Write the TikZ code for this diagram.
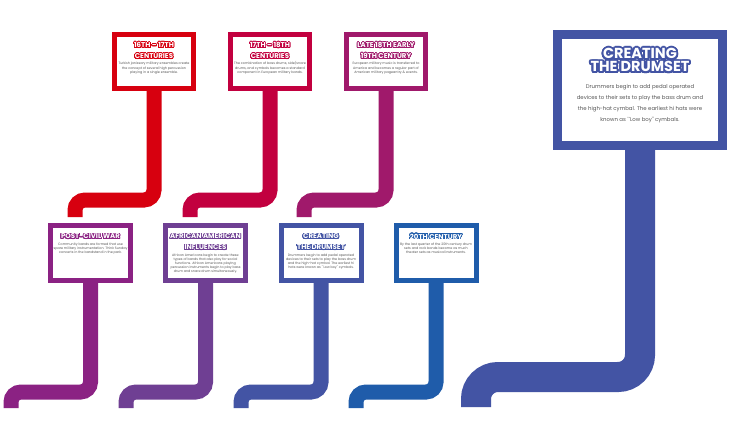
\documentclass[tikz,border=0pt]{standalone}
\usepackage{fontspec}
\usepackage{contour}
\contournumber{32}
\newfontfamily\ttlfont{Poppins}
\newfontfamily\bdyfont{Poppins}
\definecolor{cA}{RGB}{215,0,15}
\definecolor{cB}{RGB}{194,0,63}
\definecolor{cC}{RGB}{160,25,107}
\definecolor{cD}{RGB}{139,34,131}
\definecolor{cE}{RGB}{111,63,147}
\definecolor{cF}{RGB}{67,84,164}
\definecolor{cG}{RGB}{31,92,170}
\definecolor{txt}{RGB}{85,85,85}
\newcommand\ttl[2]{{\contourlength{0.75pt}\fontsize{7}{8}\ttlfont\bfseries\contour{#1}{\textcolor{white}{#2}}}}
\newcommand\bigttl[2]{{\contourlength{1.8pt}\fontsize{14.5}{15}\ttlfont\bfseries\contour{#1}{\textcolor{white}{#2}}}}
\newcommand\bdy[1]{{\fontsize{3.3}{4.2}\bdyfont\color{txt}#1\par}}
\newcommand\sbody[2]{\parbox[c][50pt][t]{74pt}{\centering\vspace{6pt}#1\par\vspace{2pt}\bdy{#2}}}
\tikzset{
  pipe/.style={line width=15pt, rounded corners=10pt, line cap=butt},
  bigpipe/.style={line width=30pt, rounded corners=22pt, line cap=butt},
  sbox/.style={draw=#1, line width=5pt, fill=white, inner sep=0pt, minimum width=79pt, minimum height=54pt},
  sboxb/.style={draw=#1, line width=5pt, fill=white, inner sep=0pt, minimum width=80pt, minimum height=55pt},
}
\begin{document}
\begin{tikzpicture}[x=1pt,y=-1pt]
\useasboundingbox[fill=white] (0,0) rectangle (747,428);
% top row
\node[sbox=cA] (b1) at (154,61.5) {\sbody{\ttl{cA}{16TH – 17TH}\\[-1pt]\ttl{cA}{CENTURIES}}{Turkish janissary military ensembles create the concept of several high percussion playing in a single ensemble.}};
\node[sbox=cB] (b2) at (270,61.5) {\sbody{\ttl{cB}{17TH – 18TH}\\[-1pt]\ttl{cB}{CENTURIES}}{The combination of bass drums, side/snare drums, and cymbals becomes a standard component in European military bands.}};
\node[sbox=cC] (b3) at (386,61.5) {\sbody{\ttl{cC}{LATE 18TH EARLY}\\[-1pt]\ttl{cC}{19TH CENTURY}}{European military music is transferred to America and becomes a regular part of American military pageantry \& events.}};
% bottom row
\node[sboxb=cD] (p1) at (90.5,253) {\sbody{\ttl{cD}{POST-CIVIL WAR}}{Community bands are formed that use spare military instrumentation. Think Sunday concerts in the bandstand in the park.}};
\node[sboxb=cE] (p2) at (205.5,253) {\sbody{\ttl{cE}{AFRICAN AMERICAN}\\[-1pt]\ttl{cE}{INFLUENCES}}{African Americans begin to create these types of bands that also play for social functions. African Americans playing percussion instruments begin to play bass drum and snare drum simultaneously.}};
\node[sboxb=cF] (p3) at (321,253) {\sbody{\ttl{cF}{CREATING}\\[-1pt]\ttl{cF}{THE DRUMSET}}{Drummers begin to add pedal operated devices to their sets to play the bass drum and the high-hat cymbal. The earliest hi hats were known as ``Low boy'' cymbals.}};
\node[sboxb=cG] (p4) at (436,253) {\sbody{\ttl{cG}{20TH CENTURY}}{By the last quarter of the 20th century drum sets and rock bands become as much theater sets as musical instruments.}};
% big box
\node[draw=cF, line width=9pt, fill=white, inner sep=0pt, minimum width=165pt, minimum height=111pt] (big) at (640,90)
 {\parbox[c][105pt][t]{150pt}{\centering\vspace{11pt}\bigttl{cF}{CREATING}\\\bigttl{cF}{THE DRUMSET}\par\vspace{6pt}{\fontsize{5.4}{11}\bdyfont\color{txt}Drummers begin to add pedal operated\\ devices to their sets to play the bass drum and\\ the high-hat cymbal. The earliest hi hats were\\ known as ``Low boy'' cymbals.\par}}};
% free ends
\coordinate (e1) at (75,217);
\coordinate (e2) at (190,217);
\coordinate (e3) at (304,217);
\coordinate (e4) at (11,408);
\coordinate (e5) at (126,408);
\coordinate (e6) at (241,408);
\coordinate (e7) at (356,408);
\coordinate (e8) at (476,407);
% pipes
\draw[pipe,cA] (b1.south) |- (75,200) -- (e1);
\draw[pipe,cB] (b2.south) |- (190,200) -- (e2);
\draw[pipe,cC] (b3.south) |- (304,200) -- (e3);
\draw[pipe,cD] (p1.south) |- (11,392) -- (e4);
\draw[pipe,cE] (p2.south) |- (126,392) -- (e5);
\draw[pipe,cF] (p3.south) |- (241,392) -- (e6);
\draw[pipe,cG] (p4.south) |- (356,392) -- (e7);
\draw[bigpipe,cF] (big.south) |- (476,377) -- (e8);
\end{tikzpicture}
\end{document}
